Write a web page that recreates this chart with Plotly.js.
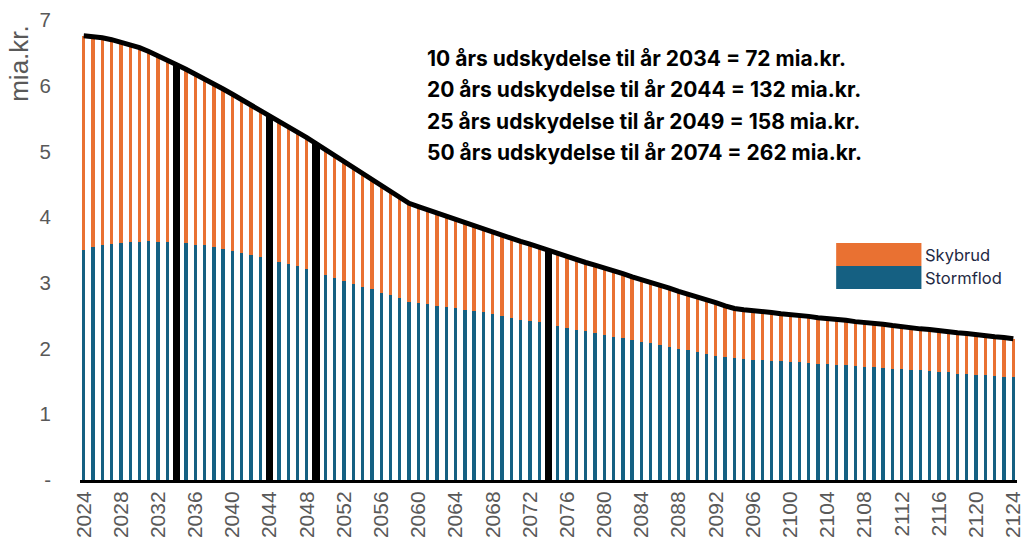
<!DOCTYPE html>
<html>
<head>
<meta charset="utf-8">
<script src="https://cdn.plot.ly/plotly-3.0.1.min.js"></script>
<style>html,body{margin:0;padding:0;background:#fff;}#chart{width:1025px;height:547px;}</style>
</head>
<body>
<div id="chart"></div>
<script>
// Years 2024..2124
const years = [];
for (let y = 2024; y <= 2124; y++) years.push(y);

const stormflod = [
  3.50,3.54,3.57,3.59,3.61,3.62,3.62,3.63,3.62,3.62,
  3.61,3.60,3.58,3.57,3.54,3.51,3.49,3.46,3.43,3.40,
  3.36,3.32,3.28,3.25,3.21,3.17,3.12,3.08,3.03,2.99,
  2.94,2.90,2.85,2.81,2.77,2.71,2.70,2.68,2.65,2.63,
  2.61,2.59,2.57,2.55,2.52,2.50,2.47,2.44,2.42,2.40,
  2.37,2.35,2.32,2.29,2.27,2.24,2.21,2.18,2.16,2.13,
  2.10,2.08,2.05,2.02,2.00,1.98,1.95,1.92,1.89,1.87,
  1.85,1.84,1.83,1.83,1.81,1.81,1.80,1.79,1.78,1.77,
  1.77,1.75,1.75,1.74,1.72,1.72,1.70,1.69,1.69,1.67,
  1.67,1.66,1.64,1.64,1.62,1.62,1.60,1.60,1.58,1.57,
  1.56
];

const skybrud = [
  3.26,3.21,3.16,3.11,3.05,3.00,2.96,2.89,2.84,2.77,
  2.71,2.65,2.60,2.54,2.49,2.44,2.38,2.33,2.28,2.22,
  2.18,2.14,2.10,2.04,2.00,1.95,1.91,1.86,1.82,1.77,
  1.72,1.67,1.63,1.58,1.53,1.50,1.46,1.43,1.41,1.39,
  1.36,1.33,1.31,1.28,1.26,1.23,1.21,1.19,1.17,1.14,
  1.12,1.10,1.08,1.07,1.04,1.03,1.02,1.00,0.98,0.96,
  0.95,0.92,0.91,0.90,0.87,0.85,0.83,0.82,0.81,0.78,
  0.76,0.75,0.75,0.73,0.74,0.72,0.72,0.71,0.71,0.70,
  0.69,0.69,0.68,0.67,0.68,0.66,0.67,0.66,0.64,0.65,
  0.63,0.63,0.63,0.62,0.62,0.61,0.61,0.60,0.60,0.60,
  0.59
];

const highlightYears = [2034, 2044, 2049, 2074];

const xTicks = [2024,2028,2032,2036,2040,2044,2048,2052,2056,2060,2064,2068,2072,
                2076,2080,2084,2088,2092,2096,2100,2104,2108,2112,2116,2120,2124];
const yTicks = [0,1,2,3,4,5,6,7];
const yTickText = ['-','1','2','3','4','5','6','7'];

const annotationLines = [
  '10 års udskydelse til år 2034 = 72 mia.kr.',
  '20 års udskydelse til år 2044 = 132 mia.kr.',
  '25 års udskydelse til år 2049 = 158 mia.kr.',
  '50 års udskydelse til år 2074 = 262 mia.kr.'
];
const legendNames = ['Skybrud', 'Stormflod'];

const ORANGE = '#E97132';
const BLUE = '#156082';

const isHL = years.map(y => highlightYears.includes(y));
const widths = isHL.map(h => h ? 0.8 : 0.36);
const total = years.map((y, i) => stormflod[i] + skybrud[i]);

const traces = [
  {
    type: 'bar', x: years, y: stormflod, name: 'Stormflod',
    width: widths,
    marker: { color: isHL.map(h => h ? '#000000' : BLUE), line: { width: 0 } },
    showlegend: false, hoverinfo: 'x+y'
  },
  {
    type: 'bar', x: years, y: skybrud, name: 'Skybrud',
    width: widths,
    marker: { color: isHL.map(h => h ? '#000000' : ORANGE), line: { width: 0 } },
    showlegend: false, hoverinfo: 'x+y'
  },
  {
    type: 'scatter', mode: 'lines', x: years, y: total, name: 'Total',
    line: { color: '#000000', width: 5 },
    showlegend: false, hoverinfo: 'x+y'
  }
];

const annY = [6.42, 5.94, 5.46, 4.99];
const annotations = annotationLines.map((t, i) => ({
  text: '<b>' + t + '</b>', xref: 'x', yref: 'y', x: 2060.7, y: annY[i],
  xanchor: 'left', yanchor: 'middle', showarrow: false,
  font: { family: 'Inter, Liberation Sans, sans-serif', size: 21, color: '#000000' }
}));

// y-axis unit label
annotations.push({
  text: 'mia.kr.', xref: 'paper', yref: 'paper', x: -0.065, y: 0.905,
  xanchor: 'center', yanchor: 'middle', textangle: -90, showarrow: false,
  font: { family: 'Liberation Sans, Arial, sans-serif', size: 26, color: '#595959' }
});

// legend labels
const legY = [0.49, 0.44];
legendNames.forEach((n, i) => annotations.push({
  text: n, xref: 'paper', yref: 'paper', x: 0.9, y: legY[i],
  xanchor: 'left', yanchor: 'middle', showarrow: false,
  font: { family: 'Inter, Liberation Sans, sans-serif', size: 16.5, color: '#1f2a44' }
}));

const shapes = [
  { type: 'rect', xref: 'paper', yref: 'paper', x0: 0.807, x1: 0.898, y0: 0.465, y1: 0.515,
    fillcolor: ORANGE, line: { width: 0 } },
  { type: 'rect', xref: 'paper', yref: 'paper', x0: 0.807, x1: 0.898, y0: 0.415, y1: 0.465,
    fillcolor: BLUE, line: { width: 0 } }
];

const layout = {
  width: 1025, height: 547,
  margin: { l: 80, r: 8, t: 20, b: 67 },
  paper_bgcolor: '#ffffff', plot_bgcolor: '#ffffff',
  barmode: 'stack',
  bargap: 0,
  showlegend: false,
  xaxis: {
    range: [2023.6, 2124.4],
    tickvals: xTicks, ticktext: xTicks.map(String),
    tickangle: -90,
    tickfont: { family: 'Liberation Sans, Arial, sans-serif', size: 21, color: '#595959' },
    showgrid: false, zeroline: false,
    showline: true, linecolor: '#000000', linewidth: 3,
    ticks: '', ticklabeloverflow: 'allow', automargin: false, fixedrange: true
  },
  yaxis: {
    range: [0, 7],
    tickvals: yTicks, ticktext: yTickText,
    tickfont: { family: 'Liberation Sans, Arial, sans-serif', size: 20.5, color: '#595959' },
    showgrid: false, zeroline: false, showline: false,
    ticks: '', ticklabelstandoff: 28, automargin: false, fixedrange: true
  },
  annotations: annotations,
  shapes: shapes
};

Plotly.newPlot('chart', traces, layout, { displayModeBar: false, staticPlot: true });
</script>
</body>
</html>
